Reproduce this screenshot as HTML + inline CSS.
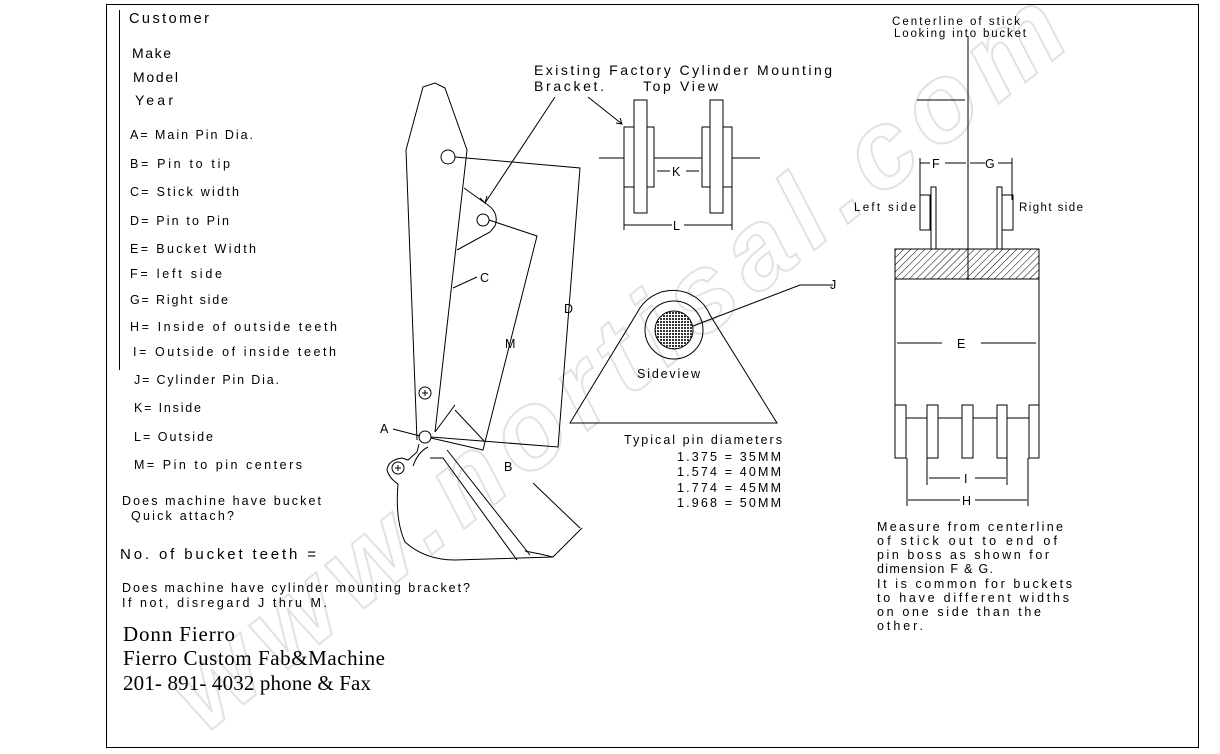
<!DOCTYPE html>
<html><head><meta charset="utf-8"><style>
html,body{margin:0;padding:0;background:#fff;}
svg{display:block;}
.m{font-family:"Liberation Sans",sans-serif;font-size:12.5px;fill:#000;}
.s{font-family:"Liberation Serif",serif;font-size:21px;fill:#000;}
</style></head><body>
<svg width="1220" height="754" viewBox="0 0 1220 754" xmlns="http://www.w3.org/2000/svg">
<defs>
<pattern id="hatch" width="5" height="5" patternUnits="userSpaceOnUse" patternTransform="rotate(45)">
<line x1="0" y1="0" x2="0" y2="5" stroke="#000" stroke-width="1"/></pattern>
<pattern id="cross" width="3" height="3" patternUnits="userSpaceOnUse">
<rect width="3" height="3" fill="#fff"/><rect width="2" height="2" fill="#333"/></pattern>
</defs>
<rect x="0" y="0" width="1220" height="754" fill="#fff"/>
<text x="0" y="0" transform="translate(205,735) rotate(-38.5)" font-family="Liberation Sans,sans-serif" font-style="italic" font-weight="bold" font-size="110" fill="none" stroke="#e2e2e2" stroke-width="2" textLength="1110">www.nortisal.com</text>
<rect x="106.5" y="4.5" width="1092" height="743" fill="none" stroke="#000"/>
<line x1="119.5" y1="10" x2="119.5" y2="370" stroke="#000"/>

<g class="m">
<text x="129" y="23" textLength="80" font-size="14.5">Customer</text>
<text x="132" y="58" textLength="39" font-size="14">Make</text>
<text x="133" y="82" textLength="45" font-size="14">Model</text>
<text x="135" y="105" textLength="38" font-size="14">Year</text>
<text x="130" y="139" textLength="123">A=  Main Pin Dia.</text>
<text x="130" y="168" textLength="100">B= Pin to tip</text>
<text x="130" y="196" textLength="109">C= Stick width</text>
<text x="130" y="225" textLength="99">D= Pin to Pin</text>
<text x="130" y="253" textLength="126">E= Bucket Width</text>
<text x="130" y="278" textLength="92">F= left side</text>
<text x="130" y="304" textLength="98">G= Right side</text>
<text x="130" y="331" textLength="207">H= Inside of outside teeth</text>
<text x="133" y="356" textLength="203">I= Outside of inside teeth</text>
<text x="134" y="384" textLength="145">J= Cylinder Pin Dia.</text>
<text x="134" y="412" textLength="67">K= Inside</text>
<text x="134" y="441" textLength="79">L= Outside</text>
<text x="134" y="469" textLength="168">M= Pin to pin centers</text>
<text x="122" y="505" textLength="199">Does machine have bucket</text>
<text x="131" y="520" textLength="103">Quick attach?</text>
<text x="120" y="559" textLength="196" font-size="15">No. of bucket teeth =</text>
<text x="122" y="592" textLength="348">Does machine have cylinder mounting bracket?</text>
<text x="122" y="607" textLength="205">If not, disregard J thru M.</text>
</g>
<g class="s">
<text x="123" y="641" textLength="112">Donn Fierro</text>
<text x="123" y="665" textLength="262">Fierro Custom Fab&amp;Machine</text>
<text x="123" y="690" textLength="248">201- 891- 4032 phone &amp; Fax</text>
</g>

<g fill="none" stroke="#000" stroke-width="1">
<path d="M406,150 L423,87 L435,83 L445,88 L467,150 L435,432"/>
<path d="M406,150 L417,440"/>
<circle cx="448" cy="157" r="7"/>
<circle cx="425" cy="437" r="6"/>
<path d="M464,188 L485,203 Q500,212 495,226 L490,232 L457,250"/>
<circle cx="483" cy="220" r="6"/>
<circle cx="425" cy="393" r="6"/>
<path d="M422,393 h6 M425,390 v6"/>
<path d="M453,288 L477,277"/>
<path d="M455,157 L580,168 L558,447 L431,437"/>
<path d="M489,220 L537,236 L483,450 L431,438"/>
<path d="M393,429 L420,436"/>
<path d="M435,432 L455,405 M455,410 L485,442"/>
<path d="M555,97 L485,203 M480,198 L485,203 L487,196"/>
<path d="M588,97 L622,124 M616,123 L622,124 L620,118"/>
<path d="M419,444 L417,452 L408,460 L402,458 Q388,460 387,470 Q389,478 398,484 Q395,520 405,542 Q425,560 455,560 L553,557 L582,528"/>
<path d="M428,447 Q418,452 413,466"/>
<circle cx="398" cy="468" r="6"/>
<path d="M395,468 h6 M398,465 v6"/>
<path d="M430,458 L443,458 L517,560"/>
<path d="M447,450 L530,555"/>
<path d="M525,551 L540,554 L553,557"/>
<path d="M533,483 L580,528"/>
<path d="M599,158 H624 M654,158 H702 M732,158 H760"/>
<rect x="624" y="127" width="30" height="60" fill="#fff"/>
<rect x="634" y="100" width="13" height="113" fill="#fff"/>
<rect x="702" y="127" width="30" height="60" fill="#fff"/>
<rect x="710" y="100" width="13" height="113" fill="#fff"/>
<path d="M657,171 H670 M686,171 H699"/>
<path d="M624,187 V230 M732,187 V230 M624,225 H672 M684,225 H732"/>
<path d="M570,423 L637,313 A40,40 0 0 1 710,315 L777,423 Z"/>
<circle cx="674" cy="330" r="29"/>
<circle cx="674" cy="330" r="19" fill="url(#cross)"/>
<path d="M693,326 L800,285 L833,285"/>
<path d="M968,36 V280 M917,100 H965"/>
<path d="M920,158 V200 M1012,158 V200 M920,163 H930 M945,163 H966 M970,163 H985 M998,163 H1012"/>
<rect x="920" y="195" width="10" height="35"/>
<rect x="931" y="187" width="5" height="62"/>
<rect x="1002" y="195" width="11" height="35"/>
<rect x="997" y="187" width="5" height="62"/>
<rect x="895" y="249" width="144" height="30" fill="url(#hatch)"/>
<line x1="968" y1="249" x2="968" y2="279"/>
<path d="M895,279 V405 M1039,279 V405"/>
<path d="M906,418 H1029"/>
<rect x="895" y="405" width="11" height="53" fill="#fff"/>
<rect x="927" y="405" width="11" height="53" fill="#fff"/>
<rect x="962" y="405" width="11" height="53" fill="#fff"/>
<rect x="997" y="405" width="10" height="53" fill="#fff"/>
<rect x="1029" y="405" width="10" height="53" fill="#fff"/>
<path d="M897,343 H942 M981,343 H1036"/>
<path d="M927,458 V485 M1007,458 V485 M929,478 H960 M975,478 H1006"/>
<path d="M907,458 V506 M1028,458 V506 M908,500 H960 M975,500 H1027"/>
</g>

<g class="m">
<text x="480" y="282">C</text>
<text x="564" y="313">D</text>
<text x="505" y="348">M</text>
<text x="380" y="433">A</text>
<text x="504" y="471">B</text>
<text x="672" y="176">K</text>
<text x="673" y="230">L</text>
<text x="830" y="289">J</text>
<text x="637" y="378" textLength="63">Sideview</text>
<text x="534" y="75" textLength="298" font-size="14">Existing Factory Cylinder Mounting</text>
<text x="534" y="91" textLength="70" font-size="14">Bracket.</text>
<text x="643" y="91" textLength="75" font-size="14">Top View</text>
<text x="624" y="444" textLength="158">Typical pin diameters</text>
<text x="677" y="461" textLength="104">1.375 = 35MM</text>
<text x="677" y="476" textLength="104">1.574 = 40MM</text>
<text x="677" y="492" textLength="104">1.774 = 45MM</text>
<text x="677" y="507" textLength="104">1.968 = 50MM</text>
<text x="892" y="25" textLength="128" font-size="11.5">Centerline of stick</text>
<text x="894" y="37" textLength="132" font-size="11.5">Looking into bucket</text>
<text x="932" y="168">F</text>
<text x="985" y="168">G</text>
<text x="854" y="211" textLength="62" font-size="11.5">Left side</text>
<text x="1019" y="211" textLength="64" font-size="11.5">Right side</text>
<text x="957" y="348">E</text>
<text x="964" y="483">I</text>
<text x="962" y="505">H</text>
<text x="877" y="531" textLength="186">Measure from centerline</text>
<text x="877" y="545" textLength="180">of stick out to end of</text>
<text x="877" y="559" textLength="172">pin boss as shown for</text>
<text x="877" y="573" textLength="116">dimension F &amp; G.</text>
<text x="877" y="588" textLength="195">It is common for buckets</text>
<text x="877" y="602" textLength="192">to have different widths</text>
<text x="877" y="616" textLength="164">on one side than the</text>
<text x="877" y="630" textLength="46">other.</text>
</g>
</svg>
</body></html>
